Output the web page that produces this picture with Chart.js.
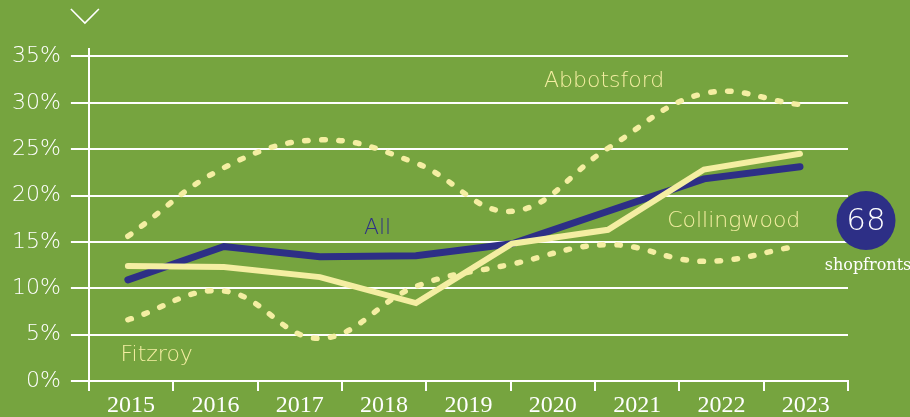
<!DOCTYPE html>
<html lang="en">
<head>
<meta charset="UTF-8">
<meta name="viewport" content="width=device-width, initial-scale=1.0">
<title>Vacant shopfronts</title>
<script src="https://cdn.jsdelivr.net/npm/chart.js"></script>
<style>
  html, body { margin: 0; padding: 0; background: #76a43f; }
  #wrap { width: 910px; height: 417px; position: relative; }
</style>
</head>
<body>
<div id="wrap"><canvas id="vacancyChart"></canvas></div>
<script>
// year labels along the bottom
const years = ['2015', '2016', '2017', '2018', '2019', '2020', '2021', '2022', '2023'];

// vacancy rate (%) at each survey point, left to right
const allAreas   = [10.9, 14.5, 13.4, 13.5, 14.8, 18.3, 21.8, 23.1];
const collingwood = [12.4, 12.3, 11.2, 8.4, 14.8, 16.3, 22.8, 24.5];
const abbotsford = [15.6, 23.0, 26.0, 23.5, 18.3, 25.1, 31.0, 29.8];
const fitzroy    = [6.6, 9.7, 4.6, 10.2, 12.6, 14.7, 12.9, 14.6];

const shopfrontCount = 68;

const NAVY = '#2d2f86';
const CREAM = '#f4eea2';
const WHITE = '#ffffff';
const SANS = '"DejaVu Sans", sans-serif';

const toPoints = arr => arr.map((v, i) => ({ x: i, y: v }));

// text labels sitting next to the lines (in data units)
const seriesNames = [
    { text: 'Abbotsford', x: 4.96, y: 31.7, color: CREAM },
    { text: 'All', x: 2.60, y: 15.9, color: NAVY },
    { text: 'Collingwood', x: 6.31, y: 16.6, color: CREAM },
    { text: 'Fitzroy', x: 0.30, y: 2.2, color: CREAM }
];

const decorations = {
    id: 'decorations',
    afterDatasetsDraw(chart) {
        const { ctx, chartArea, scales } = chart;
        ctx.save();

        // little chevron above the axis
        ctx.strokeStyle = WHITE;
        ctx.lineWidth = 1.6;
        ctx.beginPath();
        ctx.moveTo(chartArea.left - 18, 9);
        ctx.lineTo(chartArea.left - 4, 23);
        ctx.lineTo(chartArea.left + 10, 9);
        ctx.stroke();

        // series names
        ctx.font = '200 22px ' + SANS;
        ctx.textAlign = 'center';
        ctx.textBaseline = 'alphabetic';
        seriesNames.forEach(s => {
            ctx.fillStyle = s.color;
            ctx.fillText(s.text, scales.xData.getPixelForValue(s.x), scales.y.getPixelForValue(s.y));
        });

        // count badge
        const cx = chartArea.right + 18;
        const cy = scales.y.getPixelForValue(17.3);
        ctx.fillStyle = NAVY;
        ctx.beginPath();
        ctx.arc(cx, cy, 29.5, 0, Math.PI * 2);
        ctx.fill();
        ctx.fillStyle = WHITE;
        ctx.textBaseline = 'middle';
        ctx.font = '200 31px ' + SANS;
        ctx.fillText(String(shopfrontCount), cx, cy + 1);
        ctx.textBaseline = 'alphabetic';
        ctx.font = '16px "DejaVu Serif", serif';
        ctx.fillText('shopfronts', cx + 2, cy + 49);

        ctx.restore();
    }
};

const ctx = document.getElementById('vacancyChart').getContext('2d');
new Chart(ctx, {
    type: 'line',
    data: {
        labels: years,
        datasets: [
            {
                label: 'Collingwood',
                data: toPoints(collingwood),
                xAxisID: 'xData',
                borderColor: CREAM,
                borderWidth: 6,
                borderCapStyle: 'round',
                tension: 0,
                pointRadius: 0
            },
            {
                label: 'All',
                data: toPoints(allAreas),
                xAxisID: 'xData',
                borderColor: NAVY,
                borderWidth: 7,
                borderCapStyle: 'round',
                tension: 0,
                pointRadius: 0
            },
            {
                label: 'Abbotsford',
                data: toPoints(abbotsford),
                xAxisID: 'xData',
                borderColor: CREAM,
                borderWidth: 5.5,
                borderDash: [3.5, 13.5],
                borderCapStyle: 'round',
                tension: 0.4,
                pointRadius: 0
            },
            {
                label: 'Fitzroy',
                data: toPoints(fitzroy),
                xAxisID: 'xData',
                borderColor: CREAM,
                borderWidth: 5.5,
                borderDash: [3.5, 13.5],
                borderCapStyle: 'round',
                tension: 0.4,
                pointRadius: 0
            }
        ]
    },
    options: {
        responsive: true,
        maintainAspectRatio: false,
        animation: false,
        layout: { padding: { left: 2, right: 62, top: 49, bottom: -4 } },
        plugins: {
            legend: { display: false },
            tooltip: { enabled: false }
        },
        scales: {
            x: {
                type: 'category',
                labels: years,
                min: '2015',
                max: '2023',
                offset: true,
                grid: {
                    offset: true,
                    drawOnChartArea: false,
                    tickLength: 10,
                    color: WHITE,
                    lineWidth: 2
                },
                border: { color: WHITE, width: 2 },
                ticks: {
                    color: WHITE,
                    padding: 3,
                    maxRotation: 0,
                    autoSkip: false,
                    font: { family: '"Liberation Serif", serif', size: 24, lineHeight: 1 }
                }
            },
            xData: {
                type: 'linear',
                display: false,
                min: -0.406,
                max: 7.5
            },
            y: {
                min: 0,
                max: 35.8,
                grid: { color: WHITE, lineWidth: 2, tickLength: 18 },
                border: { color: WHITE, width: 2 },
                ticks: {
                    stepSize: 5,
                    includeBounds: false,
                    padding: 10,
                    color: WHITE,
                    font: { family: SANS, size: 22, weight: 200 },
                    callback: v => v + '%'
                }
            }
        }
    },
    plugins: [decorations]
});
</script>
</body>
</html>
